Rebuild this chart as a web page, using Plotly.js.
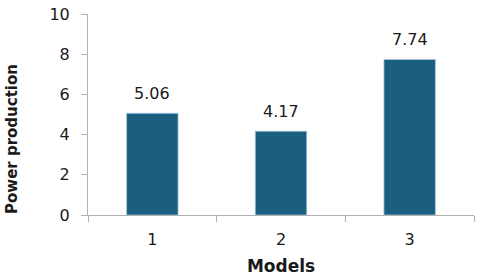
<!DOCTYPE html>
<html>
<head>
<meta charset="utf-8">
<script src="https://cdn.plot.ly/plotly-3.0.1.min.js"></script>
<style>html,body{margin:0;padding:0;background:#fff;}#chart{width:480px;height:276px;}</style>
</head>
<body>
<div id="chart"></div>
<script>
const models = ['1', '2', '3'];
const power = [5.06, 4.17, 7.74];
const valueLabels = ['5.06', '4.17', '7.74'];
const yTicks = [0, 2, 4, 6, 8, 10];
const yTitle = 'Power production';
const xTitle = 'Models';

const FONT = 'DejaVu Sans, Liberation Sans, Arial, sans-serif';

const trace = {
  type: 'bar',
  x: models,
  y: power,
  width: 0.4,
  marker: {color: '#1a5e80', line: {color: '#a8c8dc', width: 0.8}},
  hoverinfo: 'none'
};

const annotations = models.map((m, i) => ({
  x: i, y: power[i], text: valueLabels[i],
  xref: 'x', yref: 'y', yanchor: 'bottom', yshift: 8,
  showarrow: false,
  font: {family: FONT, size: 16, color: '#1a1a1a'}
}));

annotations.push({
  xref: 'paper', yref: 'paper', x: 0, y: 0.378,
  xanchor: 'center', yanchor: 'middle', xshift: -76,
  textangle: -90, showarrow: false,
  text: '<b>' + yTitle + '</b>',
  font: {family: FONT, size: 15, color: '#1a1a1a'}
});

const layout = {
  width: 480, height: 276,
  margin: {l: 88, r: 6, t: 14, b: 61},
  paper_bgcolor: '#fff', plot_bgcolor: '#fff',
  showlegend: false,
  font: {family: FONT, size: 16, color: '#1a1a1a'},
  xaxis: {
    type: 'category', range: [-0.5, 2.5],
    showgrid: false, zeroline: false,
    showline: true, linecolor: '#b0b0b0', linewidth: 1,
    ticks: 'outside', tickson: 'boundaries', ticklen: 6, tickcolor: '#b0b0b0',
    ticklabelstandoff: 10,
    tickfont: {size: 16},
    title: {text: '<b>' + xTitle + '</b>', font: {size: 17}, standoff: 11}
  },
  yaxis: {
    range: [0, 10], tickvals: yTicks, ticktext: yTicks.map(String),
    showgrid: false, zeroline: false,
    showline: true, linecolor: '#b0b0b0', linewidth: 1,
    ticks: 'outside', ticklen: 6, tickcolor: '#b0b0b0',
    ticklabelstandoff: 8,
    tickfont: {size: 16}
  },
  annotations: annotations
};

Plotly.newPlot('chart', [trace], layout, {staticPlot: true, displayModeBar: false});
</script>
</body>
</html>
